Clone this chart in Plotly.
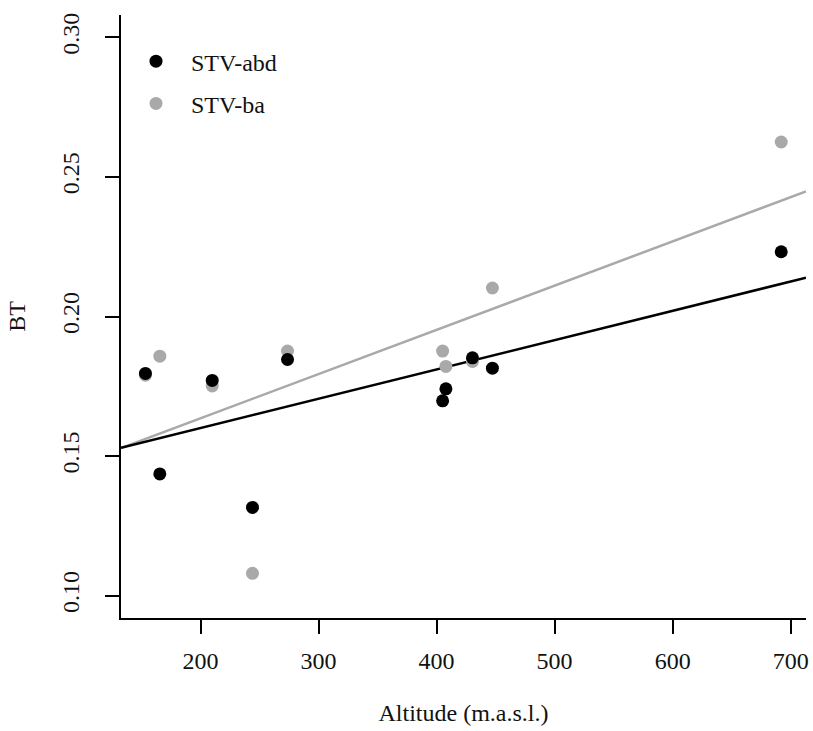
import numpy as np
import plotly.graph_objects as go

# Data
altitude = [153.3, 165.5, 209.9, 244.0, 273.7, 405.1, 407.9, 430.4, 447.3, 692.0]
bt_abd = [0.1796, 0.1436, 0.1771, 0.1316, 0.1846, 0.1698, 0.1741, 0.1852, 0.1815, 0.2232]
bt_ba = [0.1790, 0.1858, 0.1751, 0.1080, 0.1876, 0.1876, 0.1821, 0.1839, 0.2102, 0.2625]

x_ticks = [200, 300, 400, 500, 600, 700]
y_ticks = [0.10, 0.15, 0.20, 0.25, 0.30]
y_ticktext = ["0.10", "0.15", "0.20", "0.25", "0.30"]

x_range = [132.6, 713.0]
y_range = [0.092, 0.308]

FONT = "Liberation Serif"
BLACK = "#000000"
GRAY = "#a9a9a9"

fig = go.Figure()

# regression lines (least squares fits, drawn across the full x range like abline)
xs = np.array(x_range)
for ys, col in [(bt_ba, GRAY), (bt_abd, BLACK)]:
    b, a = np.polyfit(altitude, ys, 1)
    fig.add_trace(go.Scatter(x=xs, y=a + b * xs, mode="lines",
                             line=dict(color=col, width=2.5),
                             showlegend=False, hoverinfo="skip"))

fig.add_trace(go.Scatter(x=altitude, y=bt_ba, mode="markers", name="STV-ba",
                         marker=dict(color=GRAY, size=13), legendgroup="b", legendrank=2))
fig.add_trace(go.Scatter(x=altitude, y=bt_abd, mode="markers", name="STV-abd",
                         marker=dict(color=BLACK, size=13), legendgroup="a", legendrank=1))

axis_common = dict(showgrid=False, zeroline=False, showline=True, linecolor=BLACK,
                   linewidth=1.5, ticks="outside", ticklen=14, tickwidth=1.5,
                   tickcolor=BLACK, mirror=False,
                   tickfont=dict(family=FONT, size=24, color="#111111"))

fig.update_layout(
    width=813, height=731,
    margin=dict(l=121, r=4, t=15, b=113),
    plot_bgcolor="white", paper_bgcolor="white",
    font=dict(family=FONT, size=24, color="#111111"),
    xaxis=dict(range=x_range, tickvals=x_ticks, ticklabelstandoff=6,
               title=dict(text="Altitude (m.a.s.l.)", standoff=32,
                          font=dict(family=FONT, size=24)),
               **axis_common),
    yaxis=dict(range=y_range, tickvals=y_ticks, ticktext=y_ticktext,
               tickangle=-90, ticklabelstandoff=17,
               title=dict(text="BT", standoff=25, font=dict(family=FONT, size=24)),
               **axis_common),
    legend=dict(x=0.0, y=0.96, xanchor="left", yanchor="top",
                bgcolor="rgba(0,0,0,0)", borderwidth=0,
                font=dict(family=FONT, size=24, color="#111111"),
                itemwidth=60, tracegroupgap=8, traceorder="grouped"),
    showlegend=True,
)

fig.write_html("out.html")
